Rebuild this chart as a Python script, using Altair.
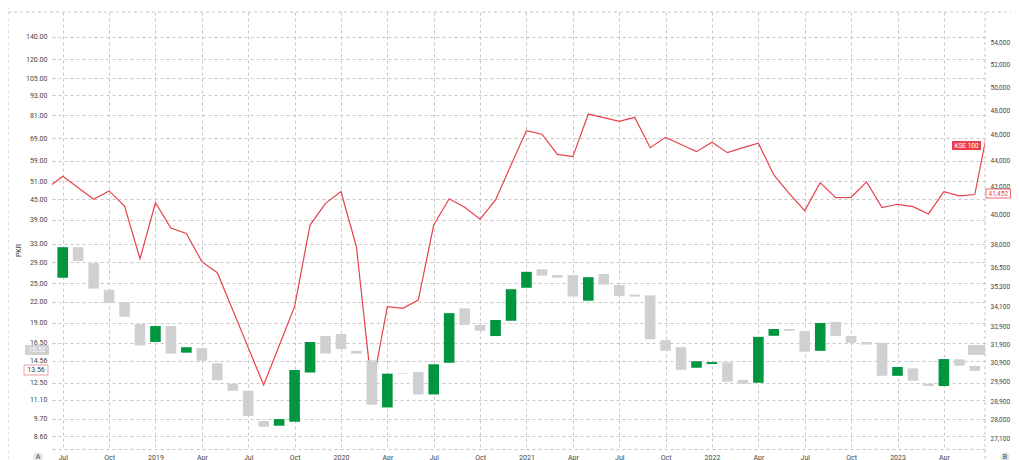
import altair as alt
import pandas as pd

# ---------------- data ----------------
# month index 0 = Jul 2018 ... 59 = Jun 2023
month_idx = list(range(60))
open_px = [26.0, 32.2, 28.8, 23.9, 21.9, 18.8, 16.6, 18.55, 15.4, 15.9,
           14.3, 12.4, 11.8, 9.55, 9.24, 9.5, 13.4, 17.3, 17.55, 15.6,
           14.6, 10.5, 13.33, 13.45, 11.5, 14.35, 21.0, 18.7, 17.3, 19.25,
           24.25, 27.6, 26.5, 26.5, 22.15, 26.7, 24.7, 23.1, 23.0, 16.8,
           16.0, 13.86, 14.22, 14.4, 12.74, 12.48, 17.33, 18.17, 17.9, 15.6,
           19.1, 17.3, 16.6, 16.5, 13.1, 13.8, 12.4, 12.2, 14.7, 14.03]
close_px = [32.2, 29.2, 24.1, 21.8, 19.8, 16.2, 18.55, 15.3, 16.0, 14.56,
            12.7, 11.8, 9.9, 9.17, 9.68, 13.64, 16.6, 15.3, 15.8, 15.3,
            10.7, 13.3, 13.27, 11.5, 14.2, 20.3, 18.7, 17.95, 19.35, 24.0,
            27.1, 26.4, 26.0, 22.8, 26.1, 24.8, 22.9, 22.8, 16.9, 15.6,
            13.66, 14.5, 14.42, 12.57, 12.4, 17.2, 18.17, 17.95, 15.5, 18.95,
            17.3, 16.5, 16.3, 13.1, 13.93, 12.66, 12.2, 14.73, 14.06, 13.56]

# KSE 100 monthly values, index -1 = Jun 2018 ... 60 = Jul 2023
kse_idx = list(range(-1, 61))
kse_close = [41910, 42800, 41950, 41110, 41710, 40630, 37055, 40860, 39100, 38730,
             36870, 36160, 33880, 31730, 29730, 31830, 34080, 39300, 40820, 41660,
             37840, 29500, 34080, 33980, 34480, 39300, 41150, 40540, 39700, 41060,
             43640, 46340, 46050, 44460, 44280, 47700, 47400, 47100, 47430, 44980,
             45800, 45230, 44670, 45410, 44590, 44990, 45330, 42890, 41510, 40300,
             42320, 41220, 41250, 42370, 40510, 40750, 40580, 40070, 41660, 41360,
             41452, 47500]

x_tick_idx = list(range(0, 60, 3))
x_tick_labels = ["Jul", "Oct", "2019", "Apr", "Jul", "Oct", "2020", "Apr", "Jul", "Oct",
                 "2021", "Apr", "Jul", "Oct", "2022", "Apr", "Jul", "Oct", "2023", "Apr"]
left_ticks = [8.6, 9.7, 11.1, 12.5, 14.56, 16.5, 19, 22, 25, 29, 33, 39, 45, 51,
              59, 69, 81, 93, 105, 120, 140]
right_ticks = [27100, 28000, 28900, 29900, 30900, 31900, 32900, 34100, 35300, 36500,
               38000, 40000, 42000, 44000, 46000, 48000, 50000, 52000, 54000]

left_badge_texts = ["15.52", "13.56"]
right_badge_texts = ["KSE 100", "41,452"]
corner_texts = ["A", "B"]

# ---------------- style ----------------
FONT = "Roboto"
TXT = "#444444"
GRID = "#c6c6c6"
DASH = [3, 3]
GREEN = "#00963f"
GREYC = "#d0d0d0"
RED = "#e8414b"

candles = pd.DataFrame({"i": month_idx, "open": open_px, "close": close_px})
kse = pd.DataFrame({"i": kse_idx, "kse": kse_close})

label_expr = "[" + ",".join(f"'{s}'" for s in x_tick_labels) + "][round(datum.value/3)]"

x_enc = alt.X(
    "i:Q",
    scale=alt.Scale(domain=[-0.692, 59.66], nice=False, zero=False, padding=0),
    axis=alt.Axis(values=x_tick_idx, labelExpr=label_expr, title=None, grid=True,
                  gridDash=DASH, gridColor=GRID, ticks=False, domain=True,
                  domainDash=DASH, domainColor=GRID, labelPadding=4, labelFontSize=7,
                  labelColor=TXT, labelFlush=False, labelFont=FONT,
                  labelOverlap=False),
)

left_scale = alt.Scale(type="log", domain=[7.853, 166.7], nice=False)
right_scale = alt.Scale(type="log", domain=[26585, 57000], nice=False)

line = alt.Chart(kse).mark_line(color=RED, strokeWidth=1.2, clip=True).encode(
    x=x_enc,
    y=alt.Y("kse:Q", scale=right_scale,
            axis=alt.Axis(orient="right", values=right_ticks, format=",", title=None,
                          grid=False, domain=False, ticks=False, labelPadding=5,
                          labelFontSize=6.5, labelColor=TXT, labelFont=FONT,
                          labelOverlap=False, labelFlush=False)),
)

one = alt.Data(values=[{"k": 0}])

kse_box = alt.Chart(one).mark_rect(fill=RED).encode(
    x=alt.value(900), x2=alt.value(929), y=alt.value(129), y2=alt.value(138))
kse_txt = alt.Chart(pd.DataFrame({"t": [right_badge_texts[0]]})).mark_text(
    color="white", fontSize=6.5, font=FONT).encode(
    x=alt.value(914.5), y=alt.value(133.5), text="t:N")
val_box = alt.Chart(one).mark_rect(fill="white", stroke=RED, strokeWidth=0.8).encode(
    x=alt.value(934), x2=alt.value(958.5), y=alt.value(177), y2=alt.value(186))
val_txt = alt.Chart(pd.DataFrame({"t": [right_badge_texts[1]]})).mark_text(
    color=RED, fontSize=6.5, font=FONT).encode(
    x=alt.value(946.3), y=alt.value(181.5), text="t:N")
right_clip_box = alt.Chart(one).mark_rect(fill=GREYC).encode(
    x=alt.value(916), x2=alt.value(933), y=alt.value(333), y2=alt.value(343))

right_group = alt.layer(line, kse_box, kse_txt, val_box, val_txt)

bars = alt.Chart(candles).mark_bar(size=10.6).encode(
    x=x_enc,
    y=alt.Y("open:Q", scale=left_scale,
            axis=alt.Axis(orient="left", values=left_ticks, format=".2f", title="PKR",
                          grid=True, gridDash=DASH, gridColor=GRID, domain=False,
                          ticks=False, labelPadding=5, labelFontSize=7, labelColor=TXT,
                          labelFont=FONT, titleFont=FONT, titleFontSize=7,
                          titleColor=TXT, titleFontWeight="normal", titleX=-34,
                          titleY=238, titleBaseline="middle", labelOverlap=False,
                          labelFlush=False)),
    y2="close:Q",
    color=alt.condition("datum.close > datum.open", alt.value(GREEN), alt.value(GREYC)),
)

lb1 = alt.Chart(one).mark_rect(fill=GREYC).encode(
    x=alt.value(-27), x2=alt.value(-3), y=alt.value(333), y2=alt.value(343))
lt1 = alt.Chart(pd.DataFrame({"t": [left_badge_texts[0]]})).mark_text(
    color="white", fontSize=7, font=FONT).encode(
    x=alt.value(-15), y=alt.value(338), text="t:N")
lb2 = alt.Chart(one).mark_rect(fill="white", stroke="#e8868c", strokeWidth=0.8).encode(
    x=alt.value(-28), x2=alt.value(-4), y=alt.value(353), y2=alt.value(363))
lt2 = alt.Chart(pd.DataFrame({"t": [left_badge_texts[1]]})).mark_text(
    color=TXT, fontSize=7, font=FONT).encode(
    x=alt.value(-16), y=alt.value(358), text="t:N")

frame_top = alt.Chart(one).mark_rule(color=GRID, strokeDash=DASH).encode(
    x=alt.value(-44), x2=alt.value(959), y=alt.value(0))
frame_left = alt.Chart(one).mark_rule(color=GRID, strokeDash=DASH).encode(
    x=alt.value(-44), y=alt.value(-6), y2=alt.value(448))
frame_right = alt.Chart(one).mark_rule(color=GRID, strokeDash=DASH).encode(
    x=alt.value(933), y=alt.value(0), y2=alt.value(448))

badge_a = alt.Chart(one).mark_circle(color="#e6e6e6", opacity=1, size=95).encode(
    x=alt.value(-14), y=alt.value(445))
badge_b = alt.Chart(one).mark_circle(color="#e6e6e6", opacity=1, size=95).encode(
    x=alt.value(953), y=alt.value(445))
txt_a = alt.Chart(pd.DataFrame({"t": [corner_texts[0]]})).mark_text(
    color=TXT, fontSize=7, font=FONT).encode(x=alt.value(-14), y=alt.value(445), text="t:N")
txt_b = alt.Chart(pd.DataFrame({"t": [corner_texts[1]]})).mark_text(
    color=TXT, fontSize=7, font=FONT).encode(x=alt.value(953), y=alt.value(445), text="t:N")

left_group = alt.layer(bars, right_clip_box, lb1, lt1, lb2, lt2, frame_top, frame_left,
                       frame_right, badge_a, badge_b, txt_a, txt_b)

chart = alt.layer(right_group, left_group).resolve_scale(y="independent").properties(
    width=933, height=437,
    padding={"left": 44, "top": 4, "right": 26, "bottom": 11},
    autosize=alt.AutoSizeParams(type="none"),
).configure_view(stroke=None)

chart.save("out.html", embed_options={"renderer": "svg", "actions": False})
